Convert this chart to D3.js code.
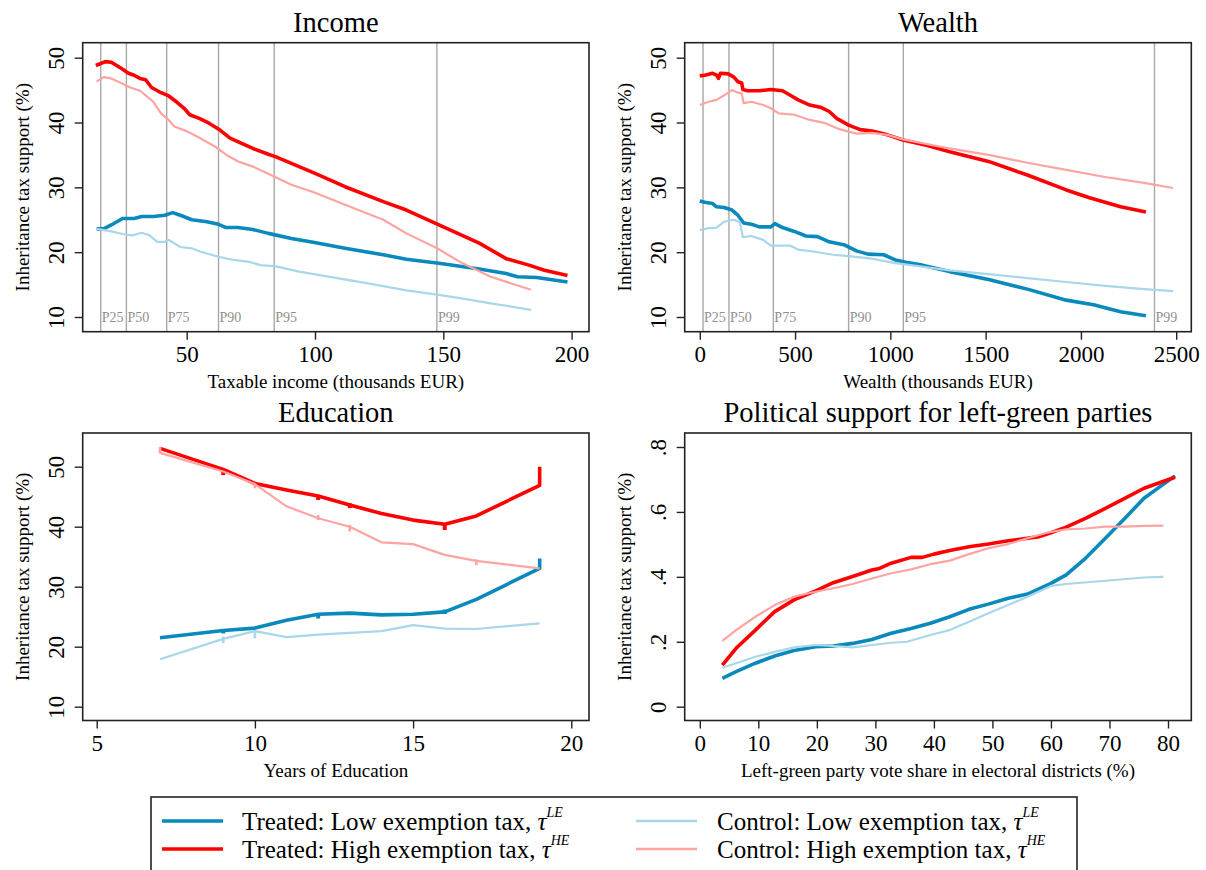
<!DOCTYPE html>
<html><head><meta charset="utf-8">
<script src="https://cdn.jsdelivr.net/npm/d3@7"></script>
<style>
body{margin:0;background:#fff}
svg{display:block}
text{font-family:"Liberation Serif","Times New Roman",serif;fill:#000}
</style>
</head><body>
<svg id="chart" width="1206" height="870"></svg>
<script>
// ---------------- DATA ----------------
const seriesNames = ["Treated: Low exemption tax, ", "Treated: High exemption tax, ", "Control: Low exemption tax, ", "Control: High exemption tax, "];
const seriesSup = ["LE", "HE", "LE", "HE"];
const pctLabels = ["P25", "P50", "P75", "P90", "P95", "P99"];

// Income panel
const incomeTicksX = [50, 100, 150, 200];
const incomePct = [16.5, 26.5, 42.2, 62.4, 84.1, 147.5];
const incomeTreatedHigh = [[14.6,48.8],[18.3,49.4],[20.6,49.3],[24.3,48.4],[27.3,47.6],[29.5,47.3],[31.8,46.8],[34.0,46.6],[36.3,45.4],[40.0,44.6],[43.0,44.1],[46.0,43.2],[49.0,42.2],[51.2,41.2],[55.1,40.6],[58.7,39.9],[63.1,38.8],[66.9,37.6],[71.4,36.8],[75.8,36.0],[81.8,35.1],[84.8,34.7],[90.8,33.7],[99.8,32.2],[111.7,30.1],[126.6,27.8],[135.6,26.5],[148.3,24.2],[164.0,21.4],[174.5,19.0],[183.4,18.0],[189.4,17.2],[198.4,16.4]];
const incomeControlHigh = [[14.9,46.3],[17.6,47.0],[20.6,46.8],[25.0,46.0],[28.0,45.4],[31.8,44.9],[34.0,44.2],[37.0,43.2],[40.0,41.4],[43.0,40.4],[45.2,39.4],[50.4,38.6],[55.1,37.6],[61.0,36.3],[65.5,35.0],[70.1,34.0],[75.8,33.2],[81.8,32.1],[90.8,30.4],[99.8,29.2],[111.7,27.3],[126.6,25.0],[135.6,22.9],[147.6,20.6],[156.5,18.5],[168.5,16.2],[184.2,14.2]];
const incomeTreatedLow = [[14.9,23.6],[17.6,23.6],[20.6,24.2],[25.0,25.2],[29.5,25.2],[32.5,25.5],[37.0,25.5],[41.5,25.7],[44.5,26.1],[47.5,25.7],[52.0,25.0],[57.9,24.7],[62.4,24.3],[65.4,23.8],[69.9,23.8],[75.8,23.5],[81.8,22.9],[90.8,22.1],[99.8,21.5],[111.7,20.6],[126.6,19.6],[135.6,18.9],[148.3,18.3],[164.0,17.4],[174.5,16.7],[178.9,16.2],[186.4,16.1],[198.4,15.4]];
const incomeControlLow = [[14.9,23.6],[20.6,23.2],[25.0,22.8],[28.8,22.6],[32.5,23.0],[35.5,22.6],[38.5,21.6],[41.5,21.6],[43.0,21.9],[47.5,20.8],[52.0,20.6],[55.1,20.1],[62.4,19.3],[68.4,18.8],[74.4,18.5],[78.8,18.0],[84.8,17.8],[93.8,17.0],[105.7,16.2],[120.7,15.2],[135.6,14.1],[148.3,13.4],[156.5,12.9],[168.5,12.1],[184.2,11.1]];

// Wealth panel
const wealthTicksX = [0, 500, 1000, 1500, 2000, 2500];
const wealthPct = [17, 153, 386, 781, 1068, 2386];
const wealthTreatedHigh = [[0,47.2],[26,47.3],[67,47.6],[88,47.3],[98,46.8],[108,47.6],[149,47.5],[179,47.0],[200,46.3],[220,46.1],[226,45.1],[251,44.9],[312,44.9],[373,45.1],[434,44.9],[475,44.2],[516,43.5],[577,42.7],[638,42.3],[679,41.7],[720,40.6],[781,39.6],[842,38.9],[903,38.7],[985,38.1],[1066,37.3],[1189,36.5],[1311,35.5],[1515,34.0],[1719,31.9],[1923,29.6],[2045,28.4],[2208,27.0],[2341,26.2]];
const wealthControlHigh = [[0,42.7],[47,43.2],[88,43.5],[128,44.2],[169,45.0],[200,44.6],[220,44.5],[230,43.0],[271,43.2],[332,42.7],[373,42.2],[414,41.4],[496,41.2],[577,40.4],[659,39.9],[720,39.1],[781,38.6],[822,38.3],[903,38.4],[985,38.1],[1066,37.4],[1311,36.0],[1515,35.0],[1719,33.8],[1923,32.7],[2127,31.6],[2331,30.7],[2484,29.9]];
const wealthTreatedLow = [[0,27.9],[26,27.7],[67,27.5],[88,27.0],[128,26.9],[169,26.5],[200,25.7],[230,24.5],[271,24.3],[312,23.9],[373,23.9],[394,24.4],[434,23.8],[496,23.2],[557,22.5],[618,22.4],[679,21.6],[761,21.1],[822,20.2],[883,19.7],[965,19.6],[1026,18.8],[1087,18.4],[1168,18.0],[1311,17.0],[1515,15.8],[1719,14.3],[1923,12.6],[2066,11.9],[2208,10.8],[2341,10.2]];
const wealthControlLow = [[0,23.4],[47,23.7],[88,23.8],[128,24.7],[179,25.0],[210,24.6],[226,22.3],[271,22.5],[332,21.9],[373,21.0],[475,21.0],[516,20.4],[597,20.1],[699,19.6],[781,19.4],[903,19.0],[1026,18.3],[1107,18.0],[1311,17.2],[1515,16.6],[1719,16.0],[1923,15.4],[2127,14.8],[2331,14.3],[2484,14.0]];

const topTicksY = [10, 20, 30, 40, 50];

// Education panel
const eduTicksX = [5, 10, 15, 20];
const eduTicksY = [10, 20, 30, 40, 50];
const eduTreatedLow = [[7,21.5],[9,22.7],[10,23.1],[11,24.4],[12,25.4],[13,25.6],[14,25.3],[15,25.4],[16,25.8],[17,27.9],[19,33.05],[19,34.7]];
const eduTreatedHigh = [[7,53.06],[9,49.56],[10,47.2],[11,46.1],[12,45.1],[13,43.6],[14,42.2],[15,41.1],[16,40.4],[17,41.8],[19,46.9],[19,50.0]];
const eduControlLow = [[7,17.9],[9,21.3],[10,22.6],[11,21.6],[12,22.0],[13,22.3],[14,22.6],[15,23.6],[16,23.0],[17,22.95],[19,23.9]];
const eduControlHigh = [[7,52.3],[9,49.2],[10,47.1],[11,43.4],[12,41.4],[13,40.0],[14,37.4],[15,37.1],[16,35.3],[17,34.3],[19,33.05]];
// small vertical spikes at bin points: [x, yLow, yHigh]
const eduSpikesTreatedLow = [[9,22.2,22.9],[12,24.7,25.55],[16,25.45,26.2]];
const eduSpikesTreatedHigh = [[9,48.6,49.45],[12,44.45,45.3],[13,43.1,43.9],[16,39.45,40.57]];
const eduSpikesControlLow = [[9,20.6,21.7],[10,21.4,22.8]];
const eduSpikesControlHigh = [[7,52.2,53.3],[10,46.4,47.2],[12,41.1,41.95],[13,39.2,40.3],[17,33.6,34.57]];

// Political panel
const polTicksX = [0, 10, 20, 30, 40, 50, 60, 70, 80];
const polTicksY = [0, 0.2, 0.4, 0.6, 0.8];
const polTickLabelsY = ["0", ".2", ".4", ".6", ".8"];
const polTreatedHigh = [[3.85,0.128],[6.2,0.180],[9.5,0.236],[12.8,0.293],[16.1,0.329],[19.8,0.357],[22.8,0.382],[26.1,0.401],[29.4,0.421],[30.7,0.426],[32.7,0.442],[36.1,0.460],[38.0,0.460],[40.0,0.470],[42.7,0.481],[46.0,0.493],[49.3,0.501],[52.7,0.511],[56.0,0.519],[58.0,0.524],[60.0,0.536],[62.6,0.553],[65.9,0.580],[69.3,0.611],[72.6,0.642],[75.9,0.673],[81.2,0.707]];
const polControlHigh = [[3.85,0.203],[6.2,0.236],[9.5,0.277],[12.8,0.313],[16.1,0.339],[19.8,0.354],[22.8,0.365],[26.1,0.378],[29.4,0.395],[32.7,0.411],[36.1,0.423],[39.4,0.439],[42.7,0.450],[46.0,0.470],[49.3,0.488],[52.7,0.501],[56.0,0.519],[59.3,0.536],[62.6,0.546],[65.9,0.549],[69.3,0.555],[72.6,0.555],[75.9,0.557],[79.2,0.558]];
const polTreatedLow = [[3.85,0.087],[6.2,0.108],[9.5,0.134],[12.8,0.156],[16.1,0.173],[19.8,0.185],[22.8,0.187],[26.1,0.195],[29.4,0.207],[32.7,0.226],[36.1,0.241],[39.4,0.257],[42.7,0.277],[46.0,0.300],[49.3,0.316],[52.7,0.334],[56.0,0.347],[60.0,0.380],[62.6,0.406],[65.9,0.457],[69.3,0.519],[72.6,0.580],[75.9,0.642],[81.2,0.711]];
const polControlLow = [[3.85,0.120],[6.2,0.134],[9.5,0.154],[12.8,0.169],[16.1,0.183],[19.8,0.190],[22.8,0.187],[26.1,0.183],[29.4,0.190],[32.7,0.197],[35.4,0.200],[39.4,0.221],[42.7,0.236],[46.0,0.262],[49.3,0.288],[52.7,0.313],[56.0,0.339],[60.0,0.372],[62.6,0.378],[69.3,0.388],[75.9,0.398],[79.2,0.400]];

// ---------------- STYLE / LAYOUT ----------------
const COL = {tl: "#0a89bd", th: "#ff0000", cl: "#a9d6e9", ch: "#ffa3a3"};
const WID = {tl: 3.6, th: 3.6, cl: 2.2, ch: 2.2};
const svg = d3.select("#chart");

function drawPanel(cfg) {
  const g = svg.append("g");
  const f = cfg.frame;
  const x = d3.scaleLinear().domain(cfg.xd).range(cfg.xr);
  const y = d3.scaleLinear().domain(cfg.yd).range(cfg.yr);

  // percentile lines
  if (cfg.pct) {
    cfg.pct.forEach((p, i) => {
      g.append("line").attr("x1", x(p)).attr("x2", x(p)).attr("y1", f.t).attr("y2", f.b)
        .attr("stroke", "#a8a8a8").attr("stroke-width", 1.4);
      g.append("text").attr("x", x(p) + 1).attr("y", f.b - 10).attr("font-size", 14)
        .style("fill", "#8f8f8f").text(pctLabels[i]);
    });
  }

  const line = d3.line().x(d => x(d[0])).y(d => y(d[1]));
  cfg.series.forEach(s => {
    g.append("path").datum(s.data).attr("d", line).attr("fill", "none")
      .attr("stroke", COL[s.k]).attr("stroke-width", WID[s.k])
      .attr("stroke-linejoin", "round");
    if (s.spikes) {
      g.selectAll(null).data(s.spikes).enter().append("line")
        .attr("x1", d => x(d[0])).attr("x2", d => x(d[0]))
        .attr("y1", d => y(d[1])).attr("y2", d => y(d[2]))
        .attr("stroke", COL[s.k]).attr("stroke-width", WID[s.k] + 0.4);
    }
  });

  // frame
  g.append("rect").attr("x", f.l).attr("y", f.t).attr("width", f.r - f.l).attr("height", f.b - f.t)
    .attr("fill", "none").attr("stroke", "#222").attr("stroke-width", 1.6);

  // x axis
  const xa = g.append("g").attr("transform", `translate(0,${f.b})`)
    .call(d3.axisBottom(x).tickValues(cfg.xt).tickSize(8).tickPadding(6).tickFormat(d3.format("d")));
  xa.select(".domain").remove();
  xa.selectAll(".tick line").attr("stroke", "#222").attr("stroke-width", 1.4);
  xa.selectAll(".tick text").attr("font-size", 23).attr("font-family", "Liberation Serif");

  // y axis
  const ya = g.append("g").attr("transform", `translate(${f.l},0)`)
    .call(d3.axisLeft(y).tickValues(cfg.yt).tickSize(8)
      .tickFormat((d, i) => cfg.ytl ? cfg.ytl[i] : d3.format("d")(d)));
  ya.select(".domain").remove();
  ya.selectAll(".tick line").attr("stroke", "#222").attr("stroke-width", 1.4);
  ya.selectAll(".tick text").attr("x", null).attr("dy", null).attr("text-anchor", "middle")
    .attr("transform", "translate(-19,0) rotate(-90)").attr("font-size", 23)
    .attr("font-family", "Liberation Serif");

  // titles
  const cx = (f.l + f.r) / 2, cy = (f.t + f.b) / 2;
  g.append("text").attr("x", cx).attr("y", f.t - 11).attr("text-anchor", "middle")
    .attr("font-size", 28.5).text(cfg.title);
  g.append("text").attr("x", cx).attr("y", f.b + 56).attr("text-anchor", "middle")
    .attr("font-size", 19).text(cfg.xtitle);
  g.append("text").attr("transform", `translate(${f.l - 54},${cy}) rotate(-90)`)
    .attr("text-anchor", "middle").attr("font-size", 19).text("Inheritance tax support (%)");
}

const topFrameL = {l: 82.7, r: 589, t: 42.7, b: 331.7};
const topFrameR = {l: 684.7, r: 1191.3, t: 42.7, b: 331.7};
const botFrameL = {l: 82.7, r: 589, t: 433, b: 720.5};
const botFrameR = {l: 684.7, r: 1191.3, t: 433, b: 720.5};

drawPanel({
  frame: topFrameL, title: "Income", xtitle: "Taxable income (thousands EUR)",
  xd: [50, 200], xr: [186.7, 571.6], yd: [10, 50], yr: [317, 57.7],
  xt: incomeTicksX, yt: topTicksY, pct: incomePct,
  series: [{k: "tl", data: incomeTreatedLow}, {k: "th", data: incomeTreatedHigh},
           {k: "cl", data: incomeControlLow}, {k: "ch", data: incomeControlHigh}]
});
drawPanel({
  frame: topFrameR, title: "Wealth", xtitle: "Wealth (thousands EUR)",
  xd: [0, 2500], xr: [699.8, 1176.2], yd: [10, 50], yr: [317, 57.7],
  xt: wealthTicksX, yt: topTicksY, pct: wealthPct,
  series: [{k: "tl", data: wealthTreatedLow}, {k: "th", data: wealthTreatedHigh},
           {k: "cl", data: wealthControlLow}, {k: "ch", data: wealthControlHigh}]
});
drawPanel({
  frame: botFrameL, title: "Education", xtitle: "Years of Education",
  xd: [5, 20], xr: [96.7, 571.3], yd: [10, 50], yr: [706.7, 466.7],
  xt: eduTicksX, yt: eduTicksY,
  series: [{k: "tl", data: eduTreatedLow, spikes: eduSpikesTreatedLow},
           {k: "th", data: eduTreatedHigh, spikes: eduSpikesTreatedHigh},
           {k: "cl", data: eduControlLow, spikes: eduSpikesControlLow},
           {k: "ch", data: eduControlHigh, spikes: eduSpikesControlHigh}]
});
drawPanel({
  frame: botFrameR, title: "Political support for left-green parties",
  xtitle: "Left-green party vote share in electoral districts (%)",
  xd: [0, 80], xr: [699.8, 1168], yd: [0, 0.8], yr: [706.7, 447],
  xt: polTicksX, yt: polTicksY, ytl: polTickLabelsY,
  series: [{k: "tl", data: polTreatedLow}, {k: "th", data: polTreatedHigh},
           {k: "cl", data: polControlLow}, {k: "ch", data: polControlHigh}]
});

// ---------------- LEGEND ----------------
const lg = svg.append("g");
lg.append("rect").attr("x", 151).attr("y", 797).attr("width", 926).attr("height", 100)
  .attr("fill", "#fff").attr("stroke", "#222").attr("stroke-width", 1.6);
const legKeys = ["tl", "th", "cl", "ch"];
const legPos = [{lx: 162, tx: 242, row: 0}, {lx: 162, tx: 242, row: 1},
                {lx: 636, tx: 717, row: 0}, {lx: 636, tx: 717, row: 1}];
legKeys.forEach((k, i) => {
  const p = legPos[i];
  const ly = 821 + p.row * 28;
  lg.append("line").attr("x1", p.lx).attr("x2", p.lx + 61).attr("y1", ly).attr("y2", ly)
    .attr("stroke", COL[k]).attr("stroke-width", k[0] === "t" ? 3.6 : 2.6);
  const t = lg.append("text").attr("x", p.tx).attr("y", ly + 9).attr("font-size", 25);
  t.append("tspan").text(seriesNames[i]);
  t.append("tspan").attr("font-style", "italic").text("τ");
  t.append("tspan").attr("font-style", "italic").attr("font-size", 14).attr("dy", -13).text(seriesSup[i]);
});
</script>
</body></html>
